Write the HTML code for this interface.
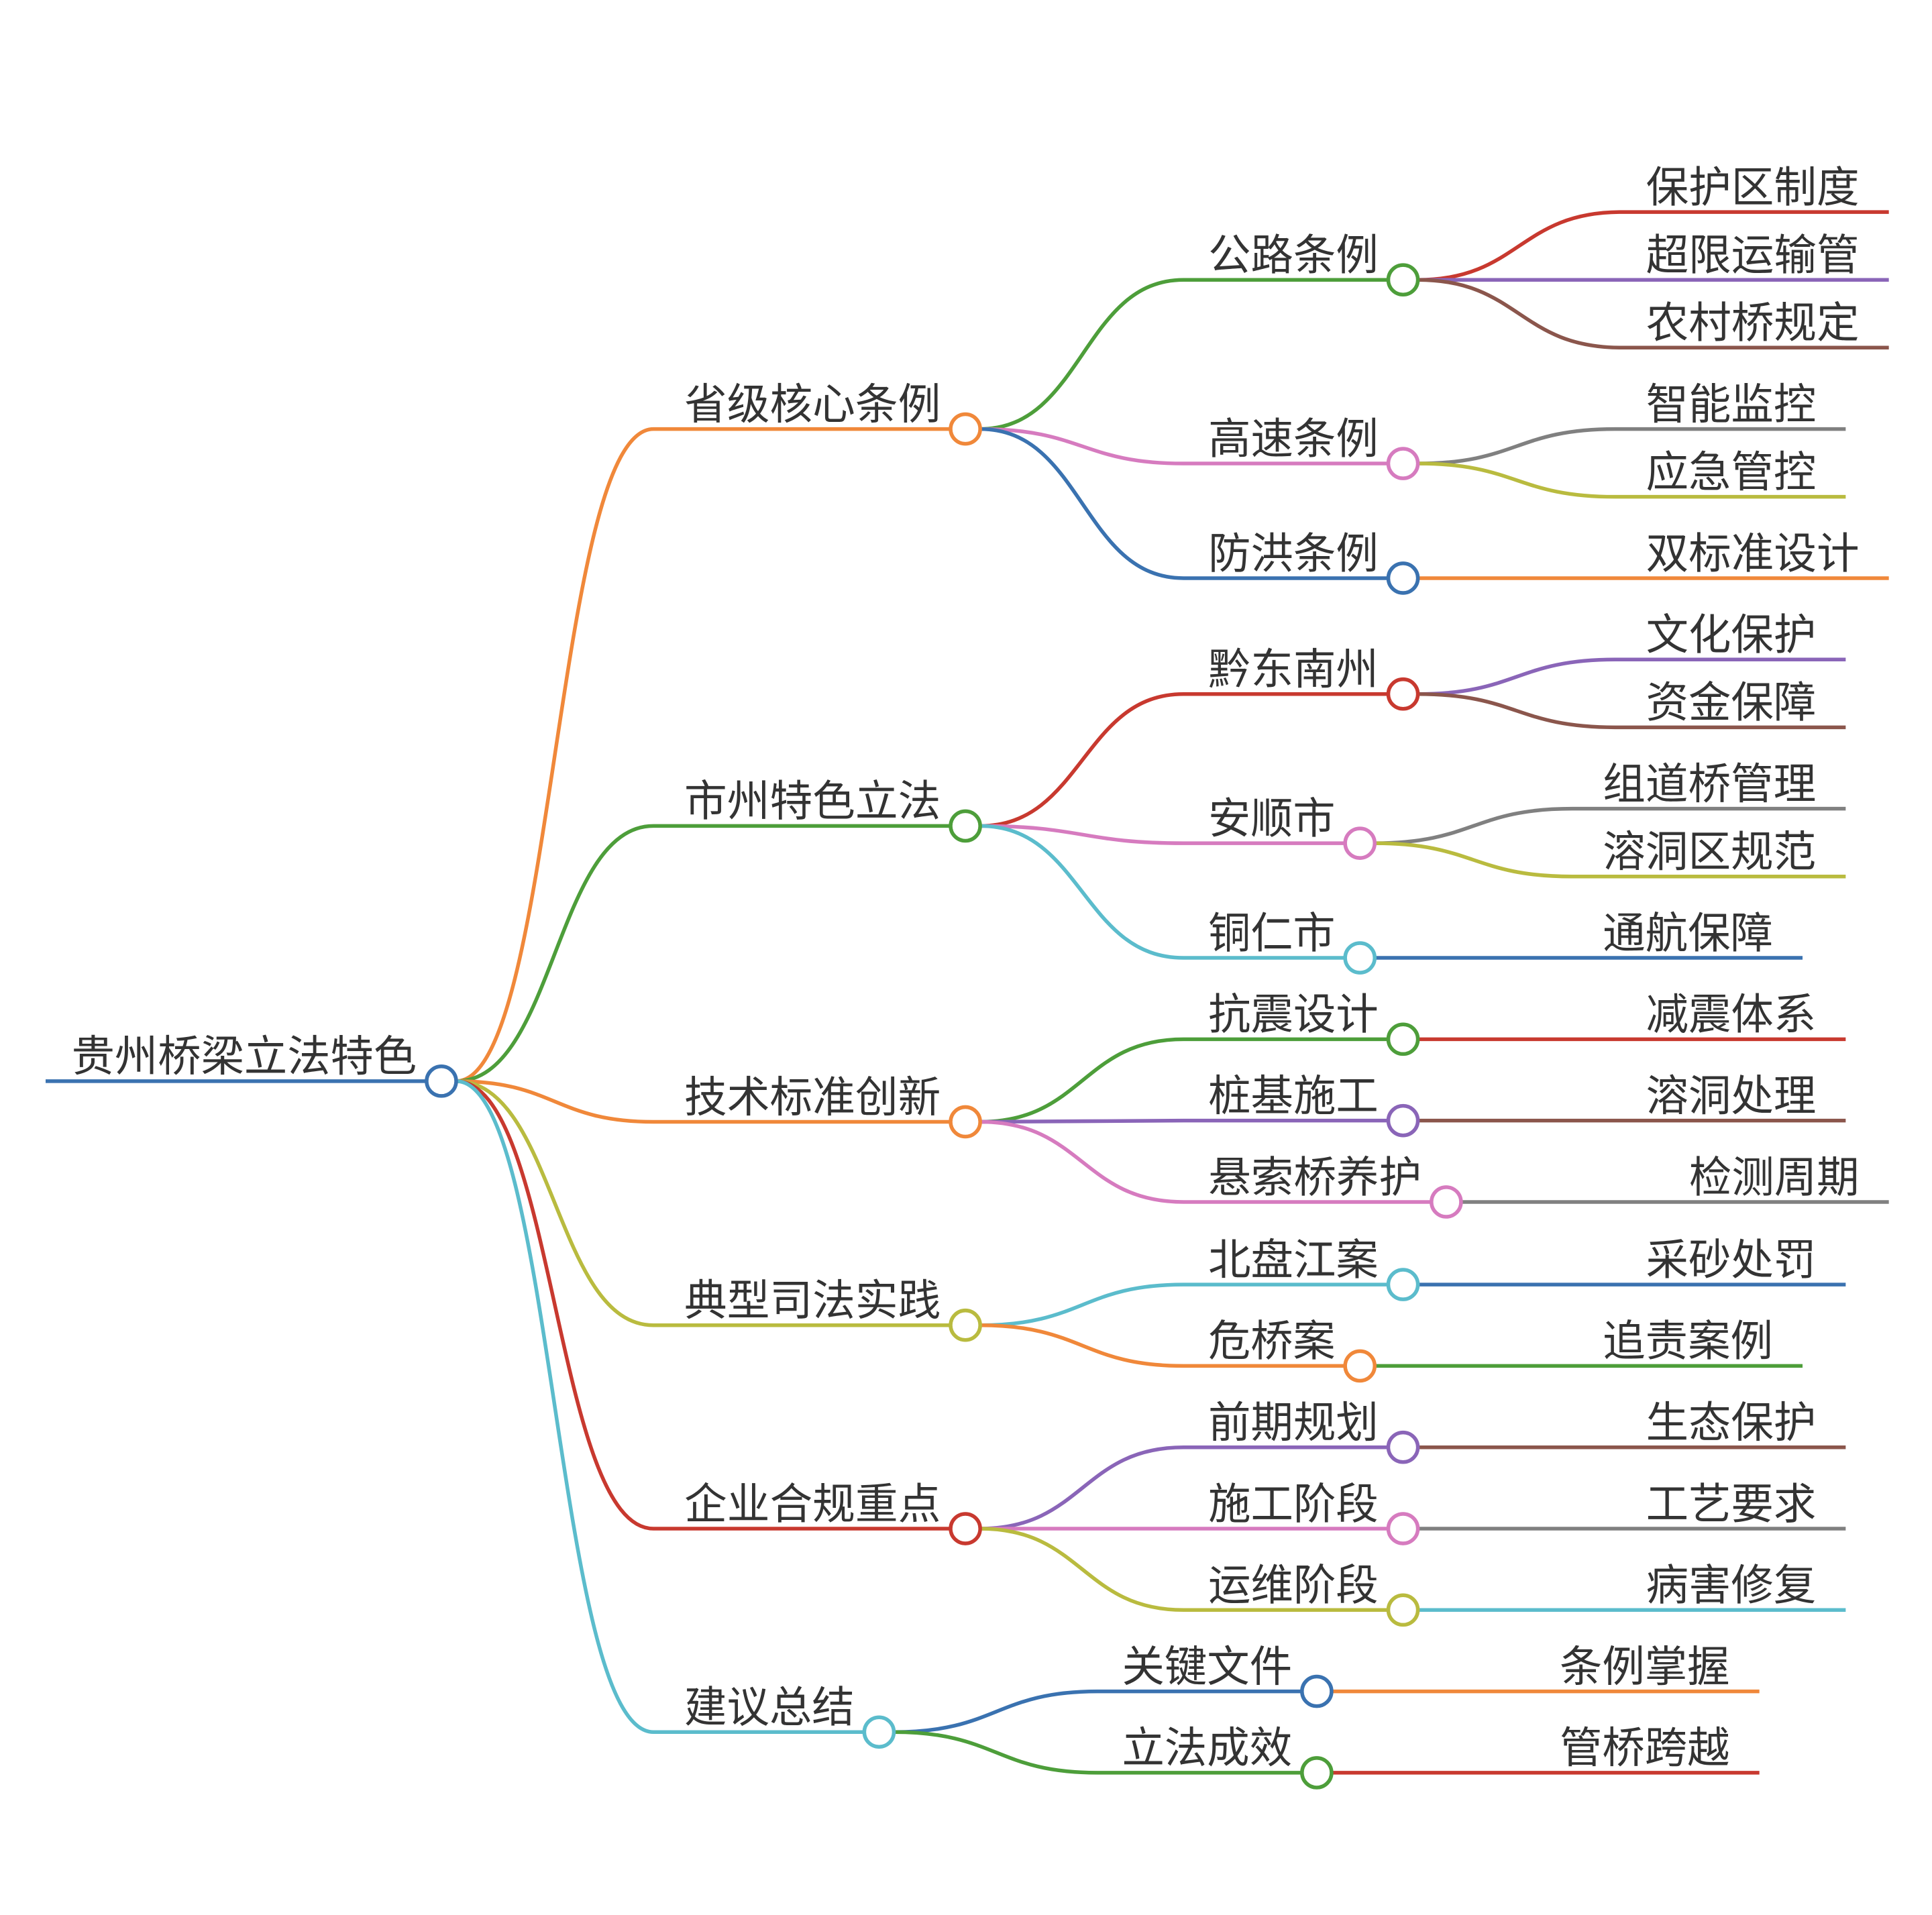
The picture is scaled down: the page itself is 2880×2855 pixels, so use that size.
<!DOCTYPE html>
<html><head><meta charset="utf-8"><style>
html,body{margin:0;padding:0;background:#fff}
svg{display:block}
text{font-family:"Liberation Sans","Noto Sans CJK SC",sans-serif;font-size:35px;fill:#333}
path{fill:none;stroke-width:3}
circle{fill:#fff;stroke-width:3}
</style></head><body>
<svg width="2880" height="2855" viewBox="0 0 1567 1553.4" xmlns="http://www.w3.org/2000/svg">
<path d="M37 877 H346" stroke="#3a72b0" stroke-width="4"/>
<text x="58" y="869" textLength="280" lengthAdjust="spacingAndGlyphs">贵州桥梁立法特色</text>

<path d="M370 877 C450 877 450 348 530 348 H771" stroke="#f0883a"/>
<path d="M370 877 C450 877 450 670 530 670 H771" stroke="#4d9e3a"/>
<path d="M370 877 C450 877 450 910 530 910 H771" stroke="#f0883a"/>
<path d="M370 877 C450 877 450 1075 530 1075 H771" stroke="#b9bb3f"/>
<path d="M370 877 C450 877 450 1240 530 1240 H771" stroke="#c8392f"/>
<path d="M370 877 C450 877 450 1405 530 1405 H701" stroke="#5bbccc"/>
<text x="555" y="340" textLength="208" lengthAdjust="spacingAndGlyphs">省级核心条例</text>
<text x="555" y="662" textLength="208" lengthAdjust="spacingAndGlyphs">市州特色立法</text>
<text x="555" y="902" textLength="208" lengthAdjust="spacingAndGlyphs">技术标准创新</text>
<text x="555" y="1067" textLength="208" lengthAdjust="spacingAndGlyphs">典型司法实践</text>
<text x="555" y="1232" textLength="208" lengthAdjust="spacingAndGlyphs">企业合规重点</text>
<text x="555" y="1397" textLength="138" lengthAdjust="spacingAndGlyphs">建议总结</text>

<path d="M795 348 C878 348 878 227 960 227 H1126" stroke="#4d9e3a"/>
<path d="M795 348 C878 348 878 376 960 376 H1126" stroke="#d67bbf"/>
<path d="M795 348 C878 348 878 469 960 469 H1126" stroke="#3a72b0"/>
<path d="M795 670 C878 670 878 563 960 563 H1126" stroke="#c8392f"/>
<path d="M795 670 C878 670 878 684 960 684 H1091" stroke="#d67bbf"/>
<path d="M795 670 C878 670 878 777 960 777 H1091" stroke="#5bbccc"/>
<path d="M795 910 C878 910 878 843 960 843 H1126" stroke="#4d9e3a"/>
<path d="M795 910 C878 910 878 909 960 909 H1126" stroke="#8a65b8"/>
<path d="M795 910 C878 910 878 975 960 975 H1161" stroke="#d67bbf"/>
<path d="M795 1075 C878 1075 878 1042 960 1042 H1126" stroke="#5bbccc"/>
<path d="M795 1075 C878 1075 878 1108 960 1108 H1091" stroke="#f0883a"/>
<path d="M795 1240 C878 1240 878 1174 960 1174 H1126" stroke="#8a65b8"/>
<path d="M795 1240 C878 1240 878 1240 960 1240 H1126" stroke="#d67bbf"/>
<path d="M795 1240 C878 1240 878 1306 960 1306 H1126" stroke="#b9bb3f"/>
<path d="M725 1405 C808 1405 808 1372 890 1372 H1056" stroke="#3a72b0"/>
<path d="M725 1405 C808 1405 808 1438 890 1438 H1056" stroke="#4d9e3a"/>

<text x="980" y="219" textLength="138" lengthAdjust="spacingAndGlyphs">公路条例</text>
<text x="980" y="368" textLength="138" lengthAdjust="spacingAndGlyphs">高速条例</text>
<text x="980" y="461" textLength="138" lengthAdjust="spacingAndGlyphs">防洪条例</text>
<text x="980" y="555" textLength="138" lengthAdjust="spacingAndGlyphs">黔东南州</text>
<text x="980" y="676" textLength="103" lengthAdjust="spacingAndGlyphs">安顺市</text>
<text x="980" y="769" textLength="103" lengthAdjust="spacingAndGlyphs">铜仁市</text>
<text x="980" y="835" textLength="138" lengthAdjust="spacingAndGlyphs">抗震设计</text>
<text x="980" y="901" textLength="138" lengthAdjust="spacingAndGlyphs">桩基施工</text>
<text x="980" y="967" textLength="173" lengthAdjust="spacingAndGlyphs">悬索桥养护</text>
<text x="980" y="1034" textLength="138" lengthAdjust="spacingAndGlyphs">北盘江案</text>
<text x="980" y="1100" textLength="103" lengthAdjust="spacingAndGlyphs">危桥案</text>
<text x="980" y="1166" textLength="138" lengthAdjust="spacingAndGlyphs">前期规划</text>
<text x="980" y="1232" textLength="138" lengthAdjust="spacingAndGlyphs">施工阶段</text>
<text x="980" y="1298" textLength="138" lengthAdjust="spacingAndGlyphs">运维阶段</text>
<text x="910" y="1364" textLength="138" lengthAdjust="spacingAndGlyphs">关键文件</text>
<text x="910" y="1430" textLength="138" lengthAdjust="spacingAndGlyphs">立法成效</text>

<path d="M1150 227 C1232 227 1232 172 1315 172 H1532" stroke="#c8392f"/>
<path d="M1150 227 H1532" stroke="#8a65b8"/>
<path d="M1150 227 C1232 227 1232 282 1315 282 H1532" stroke="#8b564c"/>
<path d="M1150 376 C1230 376 1230 348 1310 348 H1497" stroke="#808080"/>
<path d="M1150 376 C1230 376 1230 403 1310 403 H1497" stroke="#b9bb3f"/>
<path d="M1150 469 H1532" stroke="#f0883a"/>
<path d="M1150 563 C1230 563 1230 535 1310 535 H1497" stroke="#8a65b8"/>
<path d="M1150 563 C1230 563 1230 590 1310 590 H1497" stroke="#8b564c"/>
<path d="M1115 684 C1195 684 1195 656 1275 656 H1497" stroke="#808080"/>
<path d="M1115 684 C1195 684 1195 711 1275 711 H1497" stroke="#b9bb3f"/>
<path d="M1115 777 H1462" stroke="#3a72b0"/>
<path d="M1150 843 H1497" stroke="#c8392f"/>
<path d="M1150 909 H1497" stroke="#8b564c"/>
<path d="M1185 975 H1532" stroke="#808080"/>
<path d="M1150 1042 H1497" stroke="#3a72b0"/>
<path d="M1115 1108 H1462" stroke="#4d9e3a"/>
<path d="M1150 1174 H1497" stroke="#8b564c"/>
<path d="M1150 1240 H1497" stroke="#808080"/>
<path d="M1150 1306 H1497" stroke="#5bbccc"/>
<path d="M1080 1372 H1427" stroke="#f0883a"/>
<path d="M1080 1438 H1427" stroke="#c8392f"/>

<text x="1335" y="164" textLength="173" lengthAdjust="spacingAndGlyphs">保护区制度</text>
<text x="1335" y="219" textLength="173" lengthAdjust="spacingAndGlyphs">超限运输管</text>
<text x="1335" y="274" textLength="173" lengthAdjust="spacingAndGlyphs">农村桥规定</text>
<text x="1335" y="340" textLength="138" lengthAdjust="spacingAndGlyphs">智能监控</text>
<text x="1335" y="395" textLength="138" lengthAdjust="spacingAndGlyphs">应急管控</text>
<text x="1335" y="461" textLength="173" lengthAdjust="spacingAndGlyphs">双标准设计</text>
<text x="1335" y="527" textLength="138" lengthAdjust="spacingAndGlyphs">文化保护</text>
<text x="1335" y="582" textLength="138" lengthAdjust="spacingAndGlyphs">资金保障</text>
<text x="1300" y="648" textLength="173" lengthAdjust="spacingAndGlyphs">组道桥管理</text>
<text x="1300" y="703" textLength="173" lengthAdjust="spacingAndGlyphs">溶洞区规范</text>
<text x="1300" y="769" textLength="138" lengthAdjust="spacingAndGlyphs">通航保障</text>
<text x="1335" y="835" textLength="138" lengthAdjust="spacingAndGlyphs">减震体系</text>
<text x="1335" y="901" textLength="138" lengthAdjust="spacingAndGlyphs">溶洞处理</text>
<text x="1370" y="967" textLength="138" lengthAdjust="spacingAndGlyphs">检测周期</text>
<text x="1335" y="1034" textLength="138" lengthAdjust="spacingAndGlyphs">采砂处罚</text>
<text x="1300" y="1100" textLength="138" lengthAdjust="spacingAndGlyphs">追责案例</text>
<text x="1335" y="1166" textLength="138" lengthAdjust="spacingAndGlyphs">生态保护</text>
<text x="1335" y="1232" textLength="138" lengthAdjust="spacingAndGlyphs">工艺要求</text>
<text x="1335" y="1298" textLength="138" lengthAdjust="spacingAndGlyphs">病害修复</text>
<text x="1265" y="1364" textLength="138" lengthAdjust="spacingAndGlyphs">条例掌握</text>
<text x="1265" y="1430" textLength="138" lengthAdjust="spacingAndGlyphs">管桥跨越</text>

<circle cx="358" cy="877" r="12" stroke="#3a72b0"/>
<circle cx="783" cy="348" r="12" stroke="#f0883a"/>
<circle cx="783" cy="670" r="12" stroke="#4d9e3a"/>
<circle cx="783" cy="910" r="12" stroke="#f0883a"/>
<circle cx="783" cy="1075" r="12" stroke="#b9bb3f"/>
<circle cx="783" cy="1240" r="12" stroke="#c8392f"/>
<circle cx="713" cy="1405" r="12" stroke="#5bbccc"/>
<circle cx="1138" cy="227" r="12" stroke="#4d9e3a"/>
<circle cx="1138" cy="376" r="12" stroke="#d67bbf"/>
<circle cx="1138" cy="469" r="12" stroke="#3a72b0"/>
<circle cx="1138" cy="563" r="12" stroke="#c8392f"/>
<circle cx="1103" cy="684" r="12" stroke="#d67bbf"/>
<circle cx="1103" cy="777" r="12" stroke="#5bbccc"/>
<circle cx="1138" cy="843" r="12" stroke="#4d9e3a"/>
<circle cx="1138" cy="909" r="12" stroke="#8a65b8"/>
<circle cx="1173" cy="975" r="12" stroke="#d67bbf"/>
<circle cx="1138" cy="1042" r="12" stroke="#5bbccc"/>
<circle cx="1103" cy="1108" r="12" stroke="#f0883a"/>
<circle cx="1138" cy="1174" r="12" stroke="#8a65b8"/>
<circle cx="1138" cy="1240" r="12" stroke="#d67bbf"/>
<circle cx="1138" cy="1306" r="12" stroke="#b9bb3f"/>
<circle cx="1068" cy="1372" r="12" stroke="#3a72b0"/>
<circle cx="1068" cy="1438" r="12" stroke="#4d9e3a"/>
</svg>
</body></html>
